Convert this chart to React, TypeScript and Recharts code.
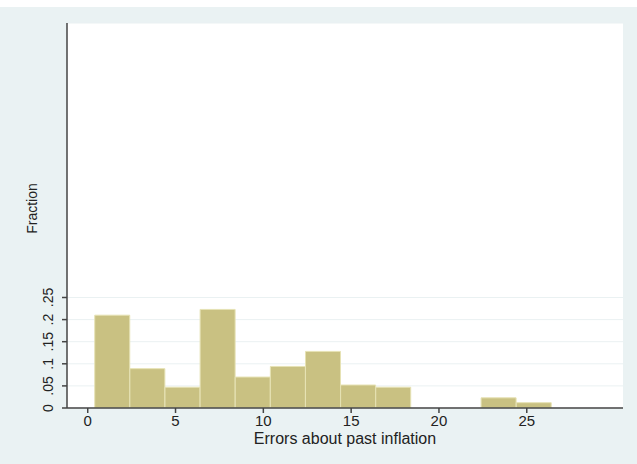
import { Bar, BarChart, CartesianGrid, XAxis, YAxis } from "recharts";

const binMids = [1.4, 3.4, 5.4, 7.4, 9.4, 11.4, 13.4, 15.4, 17.4, 19.4, 21.4, 23.4, 25.4];
const fractions = [0.21, 0.089, 0.047, 0.223, 0.07, 0.094, 0.128, 0.052, 0.047, 0, 0, 0.023, 0.012];
const xTicks = [0, 5, 10, 15, 20, 25];
const yTicks = [0, 0.05, 0.1, 0.15, 0.2, 0.25];
const yTickLabels = ["0", ".05", ".1", ".15", ".2", ".25"];

const data = binMids.map((mid, i) => ({ mid, fraction: fractions[i] }));

const textColor = "#222";
const font = "Liberation Sans, Arial, sans-serif";

const YTick = (props: any) => {
  const { x, y, payload } = props;
  const idx = yTicks.indexOf(payload.value);
  const label = idx >= 0 ? yTickLabels[idx] : String(payload.value);
  const tx = x - 7;
  return (
    <text
      x={tx}
      y={y}
      transform={`rotate(-90, ${tx}, ${y})`}
      textAnchor="middle"
      fill={textColor}
      fontSize={14}
      fontFamily={font}
    >
      {label}
    </text>
  );
};

const YLabel = (props: any) => {
  const vb = props.viewBox || { x: 27, y: 23, width: 40, height: 385 };
  const tx = vb.x + 10;
  const ty = vb.y + vb.height / 2 - 7;
  return (
    <text
      x={tx}
      y={ty}
      transform={`rotate(-90, ${tx}, ${ty})`}
      textAnchor="middle"
      fill={textColor}
      fontSize={14}
      fontFamily={font}
    >
      Fraction
    </text>
  );
};

export default function App() {
  return (
    <div style={{ position: "absolute", left: 0, top: 0, width: 637, height: 464, background: "#eaf2f3" }}>
      <div style={{ position: "absolute", left: 0, top: 0, width: 637, height: 7, background: "#fff" }} />
      <BarChart
        width={637}
        height={464}
        data={data}
        margin={{ top: 23, right: 14, bottom: 26, left: 27 }}
        barCategoryGap={0}
        barGap={0}
        style={{ fontFamily: font }}
      >
        <CartesianGrid vertical={false} fill="#fff" stroke="#eaf1f2" />
        <XAxis
          dataKey="mid"
          type="number"
          domain={[-1.18, 30.48]}
          ticks={xTicks}
          interval={0}
          allowDataOverflow
          stroke="#444"
          strokeWidth={1.5}
          tickSize={5}
          tick={{ fill: textColor, fontSize: 15 }}
          height={30}
          label={{ value: "Errors about past inflation", position: "insideBottom", offset: -6, fill: textColor, fontSize: 16 }}
        />
        <YAxis
          type="number"
          domain={[0, 0.871]}
          ticks={yTicks}
          interval={0}
          allowDataOverflow
          stroke="#444"
          strokeWidth={1.5}
          tickSize={5}
          tick={<YTick />}
          width={40}
          label={<YLabel />}
        />
        <Bar dataKey="fraction" fill="#c9c182" stroke="#e6e2b4" strokeWidth={1} isAnimationActive={false} />
      </BarChart>
    </div>
  );
}
